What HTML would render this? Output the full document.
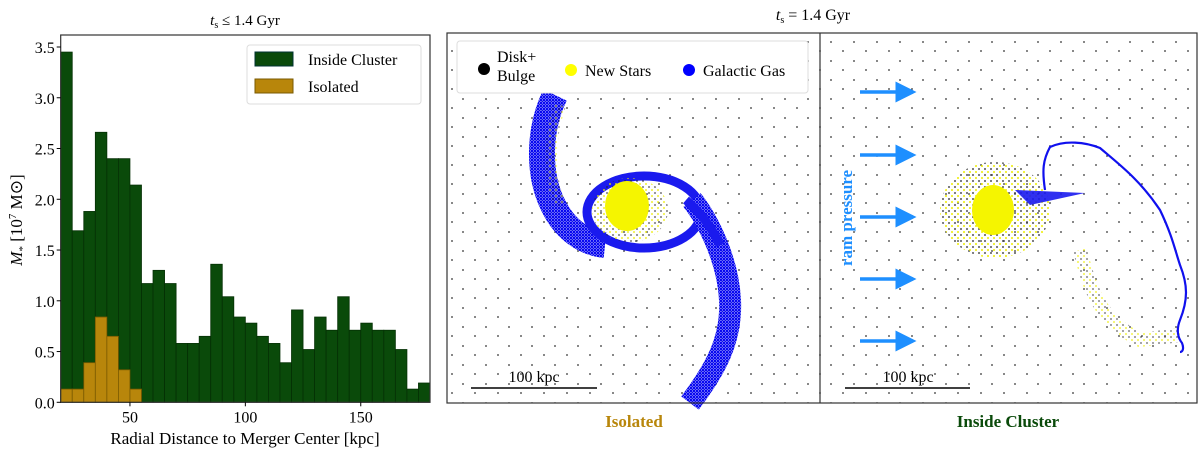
<!DOCTYPE html>
<html><head><meta charset="utf-8">
<style>
body{margin:0;background:#fff;width:1200px;height:454px;overflow:hidden;font-family:"Liberation Serif",serif}
svg text{font-family:"Liberation Serif",serif}
</style></head>
<body>
<svg id="fig" width="1200" height="454" xmlns="http://www.w3.org/2000/svg">
<defs>
<pattern id="bdots" width="23" height="19" patternUnits="userSpaceOnUse">
<circle cx="3" cy="4" r="0.9" fill="#333"/><circle cx="15" cy="13" r="0.9" fill="#333"/>
</pattern>
<pattern id="bluedots" width="3" height="3" patternUnits="userSpaceOnUse">
<rect width="3" height="3" fill="#7070ff"/><circle cx="1" cy="1" r="1.1" fill="#0000ee"/><circle cx="2.5" cy="2.5" r="0.8" fill="#1010dd"/>
</pattern>
<pattern id="mixdots" width="6" height="6" patternUnits="userSpaceOnUse">
<circle cx="1" cy="1" r="0.9" fill="#222"/><circle cx="4" cy="4" r="1" fill="#ee0"/>
</pattern>
<marker id="ah" markerWidth="6" markerHeight="6" refX="5" refY="3" orient="auto"><path d="M0,0 L6,3 L0,6 Z" fill="#1e8fff"/></marker>
</defs>

<g id="hist"></g>
<text x="245" y="25" font-size="15" text-anchor="middle"><tspan font-style="italic">t</tspan><tspan font-size="10" dy="3">s</tspan><tspan dy="-3"> ≤ 1.4 Gyr</tspan></text>
<text x="245" y="444" font-size="17" text-anchor="middle">Radial Distance to Merger Center [kpc]</text>
<text transform="translate(22,220) rotate(-90)" font-size="17" text-anchor="middle"><tspan font-style="italic">M</tspan><tspan font-size="11" dy="4">*</tspan><tspan dy="-4"> [10</tspan><tspan font-size="11" dy="-6">7</tspan><tspan dy="6"> M</tspan><tspan>⊙]</tspan></text>

<g>
<rect x="247" y="45" width="174" height="59" rx="3" fill="#fff" stroke="#ddd"/>
<rect x="255" y="52" width="38" height="14" fill="#0a4a0a" stroke="#033"/>
<text x="308" y="65" font-size="16">Inside Cluster</text>
<rect x="255" y="79" width="38" height="14" fill="#b8860b" stroke="#7a5a00"/>
<text x="308" y="92" font-size="16">Isolated</text>
</g>

<text x="813" y="20" font-size="16" text-anchor="middle"><tspan font-style="italic">t</tspan><tspan font-size="10" dy="3">s</tspan><tspan dy="-3"> = 1.4 Gyr</tspan></text>

<g>
<rect x="447" y="33" width="373" height="370" fill="url(#bdots)"/>
<path d="M555,95 C538,130 538,175 553,205 C565,230 585,243 605,245" fill="none" stroke="url(#bluedots)" stroke-width="26"/>
<path d="M560,105 C548,140 548,175 560,205" fill="none" stroke="url(#mixdots)" stroke-width="12" opacity="0.6"/>
<ellipse cx="644" cy="212" rx="57" ry="36" fill="none" stroke="#1a1aee" stroke-width="9"/>
<path d="M692,200 C708,220 728,260 730,300 C732,340 715,370 690,403" fill="none" stroke="url(#bluedots)" stroke-width="22"/>
<path d="M686,200 C700,212 712,228 720,245" fill="none" stroke="#1a1aee" stroke-width="9"/>
<ellipse cx="630" cy="210" rx="38" ry="32" fill="url(#mixdots)" opacity="0.8"/>
<ellipse cx="627" cy="206" rx="22" ry="25" fill="#f5f500"/>
<rect x="457" y="41" width="351" height="52" rx="3" fill="#fff" stroke="#ddd"/>
<circle cx="484" cy="69" r="6" fill="#000"/>
<text x="497" y="62" font-size="16">Disk+</text>
<text x="497" y="81" font-size="16">Bulge</text>
<circle cx="571" cy="70" r="6" fill="#ff0"/>
<text x="585" y="76" font-size="16">New Stars</text>
<circle cx="689" cy="70" r="6" fill="#00f"/>
<text x="703" y="76" font-size="16">Galactic Gas</text>
<line x1="471" y1="388" x2="597" y2="388" stroke="#000" stroke-width="1.5"/>
<text x="534" y="382" font-size="16" text-anchor="middle">100 kpc</text>
</g>

<g>
<rect x="820" y="33" width="377" height="370" fill="url(#bdots)"/>
<ellipse cx="995" cy="210" rx="55" ry="48" fill="url(#mixdots)"/>
<path d="M1080,250 C1090,290 1100,320 1140,340 L1180,335" fill="none" stroke="url(#mixdots)" stroke-width="14" opacity="0.7"/>
<path d="M1015,190 L1085,193 L1030,205 Z" fill="#1a1aee" opacity="0.9"/>
<ellipse cx="993" cy="210" rx="21" ry="25" fill="#f5f500"/>
<path d="M1045,190 C1042,170 1043,160 1050,147 C1065,140 1085,142 1100,148 C1120,165 1140,180 1160,210 C1172,235 1175,250 1180,265 C1188,285 1188,300 1180,320 C1176,330 1178,338 1182,343 C1184,348 1183,352 1180,352" fill="none" stroke="#1010ee" stroke-width="2.2"/>
<g stroke="#1e8fff" stroke-width="3.5">
<line x1="860" y1="92" x2="913" y2="92" marker-end="url(#ah)"/>
<line x1="860" y1="155" x2="913" y2="155" marker-end="url(#ah)"/>
<line x1="860" y1="217" x2="913" y2="217" marker-end="url(#ah)"/>
<line x1="860" y1="279" x2="913" y2="279" marker-end="url(#ah)"/>
<line x1="860" y1="341" x2="913" y2="341" marker-end="url(#ah)"/>
</g>
<text transform="translate(852,218) rotate(-90)" font-size="17" font-weight="bold" fill="#1e8fff" text-anchor="middle">ram pressure</text>
<line x1="845" y1="388" x2="970" y2="388" stroke="#000" stroke-width="1.5"/>
<text x="908" y="382" font-size="16" text-anchor="middle">100 kpc</text>
</g>
<rect x="447" y="33" width="750" height="370" fill="none" stroke="#333" stroke-width="1.2"/>
<line x1="820" y1="33" x2="820" y2="403" stroke="#333" stroke-width="1.2"/>
<text x="634" y="427" font-size="17" font-weight="bold" fill="#b8860b" text-anchor="middle">Isolated</text>
<text x="1008" y="427" font-size="17" font-weight="bold" fill="#0a4a0a" text-anchor="middle">Inside Cluster</text>
</svg>
<script>
const binStart = 20, binWidth = 5;
const insideCluster = [3.45,1.69,1.88,2.66,2.40,2.40,2.14,1.17,1.30,1.17,0.58,0.58,0.65,1.36,1.04,0.84,0.78,0.65,0.58,0.39,0.91,0.52,0.84,0.71,1.04,0.71,0.78,0.71,0.71,0.52,0.13,0.19];
const isolated = [0.13,0.13,0.39,0.84,0.65,0.32,0.13];
const yTicks = [0,0.5,1,1.5,2,2.5,3,3.5];
const xTicks = [50,100,150];
const X0=60.7,X1=430,Y0=402.3,Y1=35;
const xs = v => X0 + (v-20)/(180-20)*(X1-X0);
const ys = v => Y0 - v*(Y0-47)/3.5;
const NS='http://www.w3.org/2000/svg';
const g=document.getElementById('hist');
function mk(t,a){const e=document.createElementNS(NS,t);for(const k in a)e.setAttribute(k,a[k]);g.appendChild(e);return e;}
insideCluster.forEach((v,i)=>{
  const x=xs(binStart+i*binWidth), w=xs(binStart+(i+1)*binWidth)-x;
  const r=mk('rect',{x:x,y:ys(v),width:w,height:Y0-ys(v),fill:'#0a4a0a',stroke:'#053005','stroke-width':0.8});
  
  
});
isolated.forEach((v,i)=>{
  const x=xs(binStart+i*binWidth), w=xs(binStart+(i+1)*binWidth)-x;
  const r=mk('rect',{x:x,y:ys(v),width:w,height:Y0-ys(v),fill:'#b8860b',stroke:'#7a5a00','stroke-width':0.8});
  
  
});
const fr=mk('rect',{x:X0,y:Y1,width:X1-X0,height:Y0-Y1,fill:'none',stroke:'#333','stroke-width':1.2});


yTicks.forEach(t=>{
  mk('line',{x1:X0-4,x2:X0,y1:ys(t),y2:ys(t),stroke:'#000'});
  const tx=mk('text',{x:X0-6,y:ys(t)+6,'font-size':16,'text-anchor':'end'});
  tx.textContent=t.toFixed(1);
  
  
});
xTicks.forEach(t=>{
  mk('line',{x1:xs(t),x2:xs(t),y1:Y0,y2:Y0+4,stroke:'#000'});
  const tx=mk('text',{x:xs(t),y:Y0+20,'font-size':16,'text-anchor':'middle'});
  tx.textContent=t;
  
  
});
const fig=document.getElementById('fig');
fig.insertBefore(g, fig.firstChild);
</script>
</body></html>
